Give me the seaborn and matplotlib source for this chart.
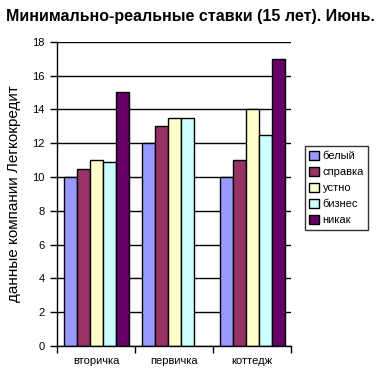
import matplotlib
matplotlib.use("Agg")
import matplotlib.pyplot as plt
import seaborn as sns
import pandas as pd
import numpy as np

categories = ["вторичка", "первичка", "коттедж"]
series = ["белый", "справка", "устно", "бизнес", "никак"]
belyi = [10, 12, 10]
spravka = [10.5, 13, 11]
ustno = [11, 13.5, 14]
biznes = [10.9, 13.5, 12.5]
nikak = [15, np.nan, 17]
colors = ["#9999FF", "#993366", "#FFFFCC", "#CCFFFF", "#660066"]

values = [belyi, spravka, ustno, biznes, nikak]
rows = []
for s, vals in zip(series, values):
    for c, v in zip(categories, vals):
        rows.append({"cat": c, "series": s, "value": v})
df = pd.DataFrame(rows)

sns.set_style("white")
plt.rcParams["font.family"] = ["Liberation Sans", "DejaVu Sans"]
plt.rcParams["text.color"] = "black"
plt.rcParams["axes.labelcolor"] = "black"
plt.rcParams["xtick.color"] = "black"
plt.rcParams["ytick.color"] = "black"

fig = plt.figure(figsize=(3.8, 3.8), dpi=100)
ax = fig.add_axes([0.151, 0.0895, 0.615, 0.8005])

sns.barplot(data=df, x="cat", y="value", hue="series", order=categories,
            hue_order=series, palette=colors, edgecolor="black", linewidth=1,
            width=0.833, saturation=1, ax=ax, legend=True, errorbar=None)

ax.set_ylim(0, 18)
ax.set_xlim(-0.5, 2.5)
ax.set_yticks(range(0, 19, 2))
ax.yaxis.grid(True, color="black", linewidth=1)
ax.set_axisbelow(True)
for sp in ["top", "right"]:
    ax.spines[sp].set_visible(False)
for sp in ["left", "bottom"]:
    ax.spines[sp].set_color("black")
    ax.spines[sp].set_linewidth(1)
ax.tick_params(axis="y", which="major", direction="out", length=5, width=1,
               color="black", labelsize=8, pad=4, left=True, labelcolor="black")
ax.set_xticks([0, 1, 2])
ax.set_xticks([-0.5, 0.5, 1.5, 2.5], minor=True)
ax.tick_params(axis="x", which="major", length=0, labelsize=8, pad=7,
               labelcolor="black")
ax.tick_params(axis="x", which="minor", direction="out", length=5, width=1,
               color="black", bottom=True)
ax.set_xlabel("")
ax.set_ylabel("данные компании Легкокредит", fontsize=11, labelpad=8,
              color="black")

fig.suptitle("Минимально-реальные ставки (15 лет). Июнь.", fontsize=11.5,
             fontweight="bold", x=0.5, y=0.975, color="black")

leg = ax.legend(loc="center left", bbox_to_anchor=(0.802, 0.505),
                bbox_transform=fig.transFigure, fontsize=8, frameon=True,
                fancybox=False, edgecolor="black", handlelength=0.9,
                handleheight=0.9, handletextpad=0.3, borderpad=0.4,
                labelspacing=0.5, borderaxespad=0)
leg.get_frame().set_linewidth(1)
for t in leg.get_texts():
    t.set_color("black")

fig.savefig("out.png", dpi=100)
